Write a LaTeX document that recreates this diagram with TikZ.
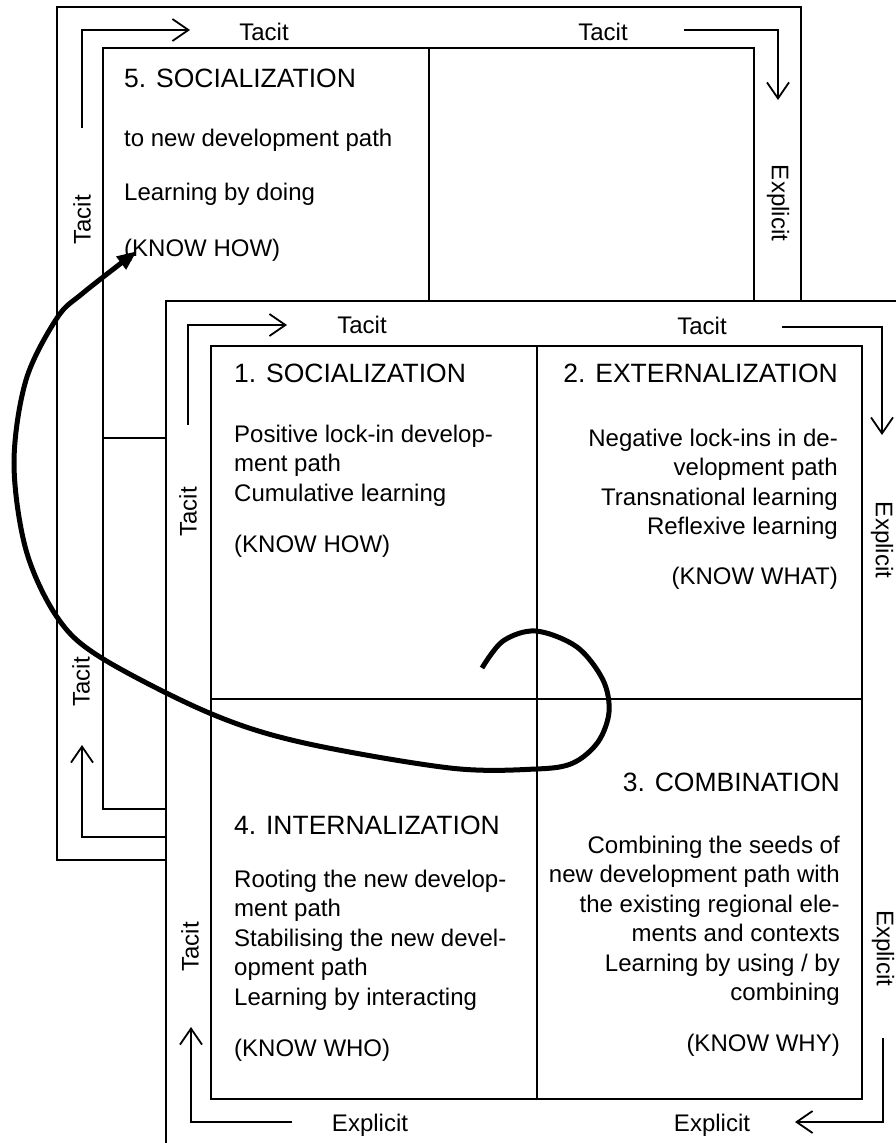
\documentclass[tikz,border=0pt]{standalone}
\usepackage{fontspec}
\setmainfont{Liberation Sans}
\usetikzlibrary{arrows.meta}
\begin{document}
\begin{tikzpicture}[x=1pt,y=-1pt,
  frame/.style={draw=black, line width=1.8pt},
  flow/.style={draw=black, line width=1.8pt, -{Straight Barb[length=16pt,width=22pt]}},
  body/.style={font=\fontsize{24}{29.5}\selectfont, inner sep=0pt},
  ttl/.style={font=\fontsize{26.5}{32}\selectfont, inner sep=0pt},
  lab/.style={font=\fontsize{24}{29.5}\selectfont, inner sep=0pt},
  loopcurve/.style={draw=black, line width=5pt, -{Triangle[length=20pt,width=15pt]}}
]
\useasboundingbox (0,0) rectangle (896,1143);
\clip (0,0) rectangle (896,1143);
\fill[white] (0,0) rectangle (896,1143);

% ---------------- back frame (5) ----------------
\draw[frame] (57,7) rectangle (801,860);
\draw[frame] (103,48) rectangle (754,809);
\draw[frame] (429,48) -- (429,809);
\draw[frame] (103,438) -- (754,438);

\coordinate (b1s) at (82,128); \coordinate (b1c) at (82,30); \coordinate (b1e) at (190,30);
\draw[flow] (b1s) -- (b1c) -- (b1e);
\coordinate (b2s) at (684,30); \coordinate (b2c) at (778,30); \coordinate (b2e) at (778,100);
\draw[flow] (b2s) -- (b2c) -- (b2e);
\coordinate (b3s) at (166,837); \coordinate (b3c) at (82,837); \coordinate (b3e) at (82,745);
\draw[flow] (b3s) -- (b3c) -- (b3e);

\node[lab] (bt1) at (264,32) {Tacit};
\node[lab] (bt2) at (603,32) {Tacit};
\node[lab, rotate=-90] (be1) at (778,203) {Explicit};
\node[lab, rotate=90] (bt3) at (82,220) {Tacit};
\node[lab, rotate=90] (bt4) at (81,682) {Tacit};

\node[ttl, anchor=base west] (q5t) at (124,87.5) {5. SOCIALIZATION};
\node[body, anchor=base west] (q5a) at (124,146) {to new development path};
\node[body, anchor=base west] (q5b) at (124,200) {Learning by doing};
\node[body, anchor=base west] (q5c) at (124,256) {(KNOW HOW)};

% ---------------- front frame ----------------
\draw[frame, fill=white] (166,301) rectangle (940,1190);
\draw[frame] (211,346) rectangle (862,1099);
\draw[frame] (537,346) -- (537,1099);
\draw[frame] (211,699) -- (862,699);

\coordinate (f1s) at (188,425); \coordinate (f1c) at (188,325); \coordinate (f1e) at (287,325);
\draw[flow] (f1s) -- (f1c) -- (f1e);
\coordinate (f2s) at (782,327); \coordinate (f2c) at (882,327); \coordinate (f2e) at (882,435);
\draw[flow] (f2s) -- (f2c) -- (f2e);
\coordinate (f3s) at (292,1122); \coordinate (f3c) at (191,1122); \coordinate (f3e) at (191,1027);
\draw[flow] (f3s) -- (f3c) -- (f3e);
\coordinate (f4s) at (883,1038); \coordinate (f4c) at (883,1122); \coordinate (f4e) at (795,1122);
\draw[flow] (f4s) -- (f4c) -- (f4e);

\node[lab] (ft1) at (362,325) {Tacit};
\node[lab] (ft2) at (702,326) {Tacit};
\node[lab, rotate=-90] (fe1) at (882,540) {Explicit};
\node[lab, rotate=90] (ft3) at (188,512) {Tacit};
\node[lab, rotate=90] (ft4) at (190,947) {Tacit};
\node[lab, rotate=-90] (fe2) at (883,948) {Explicit};
\node[lab] (fe3) at (370,1125) {Explicit};
\node[lab] (fe4) at (712,1125) {Explicit};

% quadrant 1
\node[ttl, anchor=base west] (q1t) at (234,382.5) {1. SOCIALIZATION};
\node[body, anchor=base west] (q1a) at (234,442) {Positive lock-in develop-};
\node[body, anchor=base west] (q1b) at (234,471.5) {ment path};
\node[body, anchor=base west] (q1c) at (234,501) {Cumulative learning};
\node[body, anchor=base west] (q1d) at (234,552) {(KNOW HOW)};

% quadrant 2
\node[ttl, anchor=base east] (q2t) at (838,382.5) {2. EXTERNALIZATION};
\node[body, anchor=base east] (q2a) at (838,446) {Negative lock-ins in de-};
\node[body, anchor=base east] (q2b) at (838,475.5) {velopment path};
\node[body, anchor=base east] (q2c) at (838,505) {Transnational learning};
\node[body, anchor=base east] (q2d) at (838,534.5) {Reflexive learning};
\node[body, anchor=base east] (q2e) at (838,584) {(KNOW WHAT)};

% quadrant 3
\node[ttl, anchor=base east] (q3t) at (840,791.5) {3. COMBINATION};
\node[body, anchor=base east] (q3a) at (840,853) {Combining the seeds of};
\node[body, anchor=base east] (q3b) at (840,882.5) {new development path with};
\node[body, anchor=base east] (q3c) at (840,912) {the existing regional ele-};
\node[body, anchor=base east] (q3d) at (840,941.5) {ments and contexts};
\node[body, anchor=base east] (q3e) at (840,971) {Learning by using / by};
\node[body, anchor=base east] (q3f) at (840,1000.5) {combining};
\node[body, anchor=base east] (q3g) at (840,1051) {(KNOW WHY)};

% quadrant 4
\node[ttl, anchor=base west] (q4t) at (234,834.5) {4. INTERNALIZATION};
\node[body, anchor=base west] (q4a) at (234,887) {Rooting the new develop-};
\node[body, anchor=base west] (q4b) at (234,916.5) {ment path};
\node[body, anchor=base west] (q4c) at (234,946) {Stabilising the new devel-};
\node[body, anchor=base west] (q4d) at (234,975.5) {opment path};
\node[body, anchor=base west] (q4e) at (234,1005) {Learning by interacting};
\node[body, anchor=base west] (q4f) at (234,1056) {(KNOW WHO)};

% ---------------- spiral connector ----------------
\draw[loopcurve] plot[smooth, tension=0.55] coordinates {(482,668) (503,641) (536,631) (577,647) (603,680) (609,712) (598,742) (573,763) (536,769) (450,768) (300,742) (207,712) (100,657) (57,617) (26,550) (14,463) (26,380) (57,318) (83,293) (137,251)};
\end{tikzpicture}
\end{document}
